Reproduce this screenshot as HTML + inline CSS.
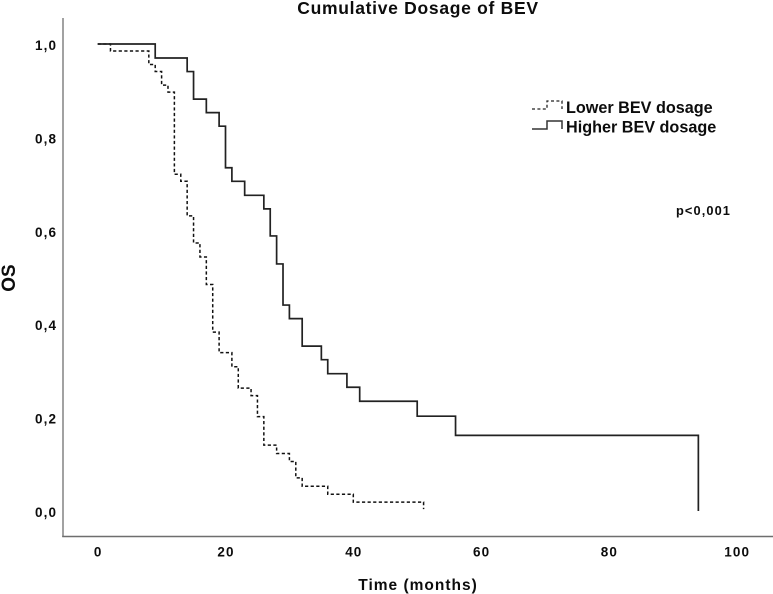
<!DOCTYPE html>
<html>
<head>
<meta charset="utf-8">
<style>
html,body{margin:0;padding:0;background:#fff;}
svg{display:block;}
text{font-family:"Liberation Sans",sans-serif;font-weight:bold;fill:#0c0c0c;}
</style>
</head>
<body>
<svg id="chart" width="773" height="594" viewBox="0 0 773 594" xmlns="http://www.w3.org/2000/svg">
<rect x="0" y="0" width="773" height="594" fill="#fff"/>
<text x="418" y="14" text-anchor="middle" font-size="17.500" letter-spacing="0.7">Cumulative Dosage of BEV</text>
<line x1="63" y1="18" x2="63" y2="537" stroke="#8a8a8a" stroke-width="1.6"/>
<line x1="62.2" y1="536.5" x2="773" y2="536.5" stroke="#6e6e6e" stroke-width="1.4"/>
<g id="y-ticks"></g>
<g id="x-ticks"></g>
<text transform="translate(15,278) rotate(-90)" text-anchor="middle" font-size="19">OS</text>
<text x="418" y="590" text-anchor="middle" font-size="15.500" letter-spacing="1">Time (months)</text>
<path id="lower-line" fill="none" stroke="#111" stroke-width="1.5" stroke-dasharray="3.2 2.4"/>
<path id="higher-line" fill="none" stroke="#222" stroke-width="1.7"/>
<g>
<path d="M532 109H547V101H562V109" fill="none" stroke="#222" stroke-width="1.3" stroke-dasharray="3 2.4"/>
<text x="566" y="113" font-size="16.200">Lower BEV dosage</text>
<path d="M532 129H547V121H562V129" fill="none" stroke="#333" stroke-width="1.5"/>
<text x="566" y="132.500" font-size="16.200">Higher BEV dosage</text>
</g>
<text x="676" y="215" font-size="12.800" letter-spacing="1.1">p&lt;0,001</text>
</svg>
<script>
const xTickValues = [0, 20, 40, 60, 80, 100];
const yTickValues = [0, 0.2, 0.4, 0.6, 0.8, 1];
const yTickLabels = ['0,0', '0,2', '0,4', '0,6', '0,8', '1,0'];
const higherTimes = [0, 9, 14, 15, 17, 19, 20, 21, 23, 26, 27, 28, 29, 30, 32, 35, 36, 39, 41, 50, 56, 94];
const higherSurvival = [1, 0.97, 0.941, 0.882, 0.853, 0.824, 0.735, 0.706, 0.676, 0.647, 0.589, 0.529, 0.441, 0.412, 0.353, 0.324, 0.294, 0.265, 0.235, 0.203, 0.162, 0];
const lowerTimes = [0, 2, 8, 9, 10, 11, 12, 13, 14, 15, 16, 17, 18, 19, 21, 22, 24, 25, 26, 28, 30, 31, 32, 36, 40, 51];
const lowerSurvival = [1, 0.985, 0.956, 0.941, 0.912, 0.897, 0.721, 0.706, 0.632, 0.574, 0.544, 0.485, 0.383, 0.339, 0.309, 0.263, 0.247, 0.202, 0.141, 0.123, 0.106, 0.071, 0.053, 0.036, 0.019, 0.004];

const NS = 'http://www.w3.org/2000/svg';
function xScale(t) { return 97.7 + t * 6.39; }
function yScale(s) { return 511 - s * 467; }
function stepPath(times, values) {
  let d = 'M' + xScale(times[0]) + ' ' + yScale(values[0]);
  for (let i = 1; i < times.length; i++) {
    d += 'H' + xScale(times[i]) + 'V' + yScale(values[i]);
  }
  return d;
}
document.getElementById('higher-line').setAttribute('d', stepPath(higherTimes, higherSurvival));
document.getElementById('lower-line').setAttribute('d', stepPath(lowerTimes, lowerSurvival));

const xGroup = document.getElementById('x-ticks');
xTickValues.forEach(function (v) {
  const el = document.createElementNS(NS, 'text');
  
  
  el.setAttribute('x', xScale(v) + 0.5);
  el.setAttribute('y', 556.5);
  el.setAttribute('text-anchor', 'middle');
  el.setAttribute('font-size', '13.5');
  el.setAttribute('letter-spacing', '1.1');
  el.textContent = String(v);
  xGroup.appendChild(el);
});
const yGroup = document.getElementById('y-ticks');
yTickValues.forEach(function (v, i) {
  const el = document.createElementNS(NS, 'text');
  
  
  el.setAttribute('x', 35);
  el.setAttribute('y', yScale(v) + 6);
  el.setAttribute('font-size', '13.5');
  el.setAttribute('letter-spacing', '1.1');
  el.textContent = yTickLabels[i];
  yGroup.appendChild(el);
});
</script>
</body>
</html>
